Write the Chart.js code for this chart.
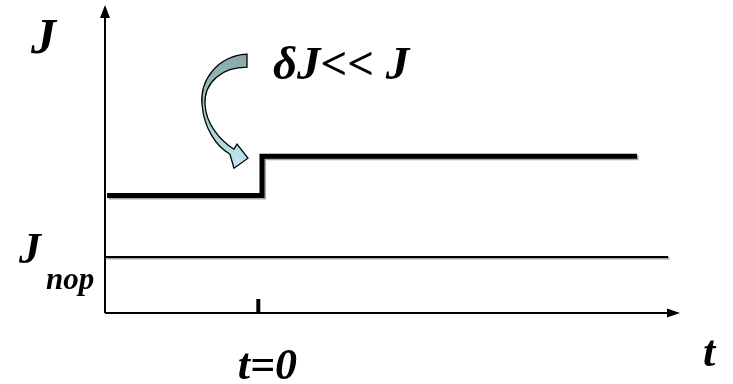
<!DOCTYPE html>
<html>
<head>
<meta charset="utf-8">
<script src="https://cdn.jsdelivr.net/npm/chart.js@4.4.0/dist/chart.umd.min.js"></script>
<style>
  html, body { margin: 0; padding: 0; background: #fff; }
  #wrap { width: 733px; height: 384px; position: relative; }
</style>
</head>
<body>
<div id="wrap"><canvas id="stepChart"></canvas></div>
<script>
// axis ranges (arbitrary units, t=0 is the moment of the step)
const tRange = [-1.5, 4.126];
const jRange = [0, 5.5];

// current J before / after the small step dJ
const stepT = [-1.48, 0.036, 0.036, 3.705];
const stepJ = [2.1, 2.1, 2.8, 2.8];

// threshold level J_nop
const nopT = [-1.5, 4.01];
const nopJ = [1, 1];

// marked instants on the t axis
const tickT = [0];
const tickLabels = ['t=0'];

const FONT = '"Liberation Serif", "Times New Roman", serif';

function toPoints(xs, ys) {
    return xs.map((x, i) => ({ x: x, y: ys[i] }));
}

// grey offset shadow under the lines, like the original slide
const shadowPlugin = {
    id: 'shadow',
    beforeDatasetDraw(chart) {
        const ctx = chart.ctx;
        ctx.save();
        ctx.shadowColor = 'rgba(0,0,0,0.35)';
        ctx.shadowOffsetX = 1.5;
        ctx.shadowOffsetY = 1.5;
        ctx.shadowBlur = 0;
    },
    afterDatasetDraw(chart) {
        chart.ctx.restore();
    }
};

// axes with arrows, tick, labels and the curved arrow
const decorPlugin = {
    id: 'decor',
    afterDraw(chart) {
        const ctx = chart.ctx;
        const xs = chart.scales.x, ys = chart.scales.y;
        const x0 = xs.getPixelForValue(tRange[0]);
        const x1 = xs.getPixelForValue(tRange[1]);
        const y0 = ys.getPixelForValue(jRange[0]);
        const y1 = ys.getPixelForValue(jRange[1]);

        ctx.save();
        ctx.strokeStyle = '#000';
        ctx.fillStyle = '#000';
        ctx.lineWidth = 2;

        // J axis
        ctx.beginPath();
        ctx.moveTo(x0, y0);
        ctx.lineTo(x0, y1 + 10);
        ctx.stroke();
        ctx.beginPath();
        ctx.moveTo(x0, y1);
        ctx.lineTo(x0 - 5, y1 + 13);
        ctx.lineTo(x0 + 5, y1 + 13);
        ctx.closePath();
        ctx.fill();

        // t axis
        ctx.beginPath();
        ctx.moveTo(x0, y0);
        ctx.lineTo(x1 - 10, y0);
        ctx.stroke();
        ctx.beginPath();
        ctx.moveTo(x1, y0);
        ctx.lineTo(x1 - 13, y0 - 4.5);
        ctx.lineTo(x1 - 13, y0 + 4.5);
        ctx.closePath();
        ctx.fill();

        // ticks + labels
        ctx.font = 'italic bold 44px ' + FONT;
        ctx.textAlign = 'center';
        ctx.textBaseline = 'alphabetic';
        tickT.forEach((t, i) => {
            const px = xs.getPixelForValue(t);
            ctx.fillRect(px - 2, y0 - 14, 4, 14);
            ctx.fillText(tickLabels[i], px + 9, y0 + 66);
        });

        // axis names
        ctx.textAlign = 'left';
        ctx.fillText('t', x1 + 23, y0 + 53);
        const nopY = ys.getPixelForValue(nopJ[0]);
        ctx.fillText('J', 19, nopY + 6);
        ctx.font = 'italic bold 50px ' + FONT;
        ctx.fillText('J', 31, 53);
        ctx.font = 'italic bold 31px ' + FONT;
        ctx.fillText('nop', 46, nopY + 32);

        // step annotation
        const sx = xs.getPixelForValue(stepT[1]);
        const sy = ys.getPixelForValue(stepJ[2]);
        ctx.font = 'italic bold 47px ' + FONT;
        ctx.fillText('\u03B4J<< J', sx + 11, sy - 77);

        // curved arrow pointing to the step
        ctx.translate(sx - 262, sy - 156);
        ctx.beginPath();
        ctx.moveTo(247, 54);
        ctx.bezierCurveTo(217, 56, 200, 80, 202, 104);
        ctx.bezierCurveTo(204, 128, 216, 146, 230, 154);
        ctx.lineTo(234, 168);
        ctx.lineTo(248, 158);
        ctx.lineTo(237, 144);
        ctx.lineTo(234, 149);
        ctx.bezierCurveTo(220, 140, 206, 124, 205, 104);
        ctx.bezierCurveTo(204, 82, 222, 67, 247, 67);
        ctx.closePath();
        const grad = ctx.createLinearGradient(0, 54, 0, 167);
        grad.addColorStop(0, '#86a8a8');
        grad.addColorStop(0.5, '#a3c9cb');
        grad.addColorStop(1, '#bfe9ee');
        ctx.fillStyle = grad;
        ctx.fill();
        ctx.lineWidth = 1.3;
        ctx.strokeStyle = '#000';
        ctx.stroke();
        ctx.restore();
    }
};

new Chart(document.getElementById('stepChart').getContext('2d'), {
    type: 'line',
    data: {
        datasets: [{
            label: 'J',
            data: toPoints(stepT, stepJ),
            borderColor: '#000',
            borderWidth: 5,
            borderJoinStyle: 'miter',
            borderCapStyle: 'butt',
            pointRadius: 0,
            tension: 0,
            fill: false
        }, {
            label: 'J nop',
            data: toPoints(nopT, nopJ),
            borderColor: '#000',
            borderWidth: 2,
            borderCapStyle: 'butt',
            pointRadius: 0,
            tension: 0,
            fill: false
        }]
    },
    options: {
        responsive: true,
        maintainAspectRatio: false,
        animation: false,
        layout: { padding: { left: 105, right: 53, top: 5, bottom: 71 } },
        plugins: {
            legend: { display: false },
            tooltip: { enabled: false }
        },
        scales: {
            x: { type: 'linear', min: tRange[0], max: tRange[1], display: false },
            y: { type: 'linear', min: jRange[0], max: jRange[1], display: false }
        }
    },
    plugins: [shadowPlugin, decorPlugin]
});
</script>
</body>
</html>
